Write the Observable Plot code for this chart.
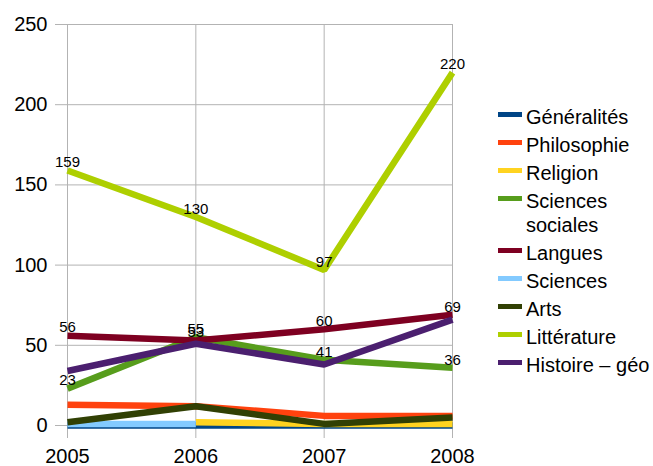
<!DOCTYPE html>
<html>
<head>
<meta charset="utf-8">
<script src="https://cdn.jsdelivr.net/npm/d3@7"></script>
<script src="https://cdn.jsdelivr.net/npm/@observablehq/plot@0.6"></script>
<style>
  html, body { margin: 0; padding: 0; background: #fff; }
  #chart { position: relative; width: 653px; height: 466px; font-family: "Liberation Sans", Arial, sans-serif; }
  #chart svg { position: absolute; left: 0; top: 0; }
  .legend { position: absolute; left: 498px; top: 105px; }
  .legend .item { display: flex; align-items: flex-start; margin-bottom: 4px; }
  .legend .swatch { width: 24px; height: 5px; margin-top: 6.5px; margin-right: 4px; flex: none; }
  .legend .label { font-size: 20px; line-height: 24px; width: 128px; color: #000; }
</style>
</head>
<body>
<div id="chart"></div>
<script>
// Number of documents per subject area, 2005–2008
const years = [2005, 2006, 2007, 2008];
const categories = ["Généralités", "Philosophie", "Religion", "Sciences sociales", "Langues", "Sciences", "Arts", "Littérature", "Histoire – géo"];
const colors = ["#004586", "#ff420e", "#ffd320", "#579d1c", "#7e0021", "#83caff", "#314004", "#aecf00", "#4b1f6f"];

const generalites      = [0, 0, 0, 0];
const philosophie      = [13, 12, 6, 6];
const religion         = [null, 2, 1, 1];
const sciencesSociales = [23, 55, 41, 36];
const langues          = [56, 53, 60, 69];
const sciences         = [1, 1, null, null];
const arts             = [2, 12, 1, 5];
const litterature      = [159, 130, 97, 220];
const histoireGeo      = [34, 51, 38, 66];

const yTicks = [0, 50, 100, 150, 200, 250];
// series whose points carry a value label
const labelled = ["Sciences sociales", "Langues", "Littérature"];

const seriesValues = [generalites, philosophie, religion, sciencesSociales, langues, sciences, arts, litterature, histoireGeo];

// long format: one row per (series, year)
const rows = categories.flatMap((name, i) =>
  years.map((year, j) => ({ name, year, value: seriesValues[i][j] }))
);
const labelRows = rows.filter(d => labelled.includes(d.name) && d.value != null);

const grid = "#b3b3b3";

const plot = Plot.plot({
  width: 653,
  height: 466,
  marginLeft: 67,
  marginRight: 201,
  marginTop: 24,
  marginBottom: 41,
  style: { fontFamily: "Liberation Sans, Arial, sans-serif", fontSize: "20px", color: "#000", background: "#fff" },
  x: { type: "linear", domain: [2005, 2008] },
  y: { domain: [0, 250] },
  color: { domain: categories, range: colors },
  marks: [
    Plot.gridY(yTicks, { stroke: grid, strokeOpacity: 1, strokeWidth: 1 }),
    Plot.gridX(years, { stroke: grid, strokeOpacity: 1, strokeWidth: 1 }),
    Plot.axisY(yTicks, { tickSize: 12, tickPadding: 8, stroke: grid, fontSize: 20, label: null }),
    Plot.axisX(years, { tickSize: 13, tickPadding: 10, stroke: grid, fontSize: 20, tickFormat: d => String(d), label: null }),
    Plot.line(rows, {
      x: "year", y: "value", z: "name", stroke: "name",
      strokeWidth: 6.5, strokeLinecap: "butt", strokeLinejoin: "miter"
    }),
    Plot.text(labelRows, {
      x: "year", y: "value", text: d => String(d.value),
      dy: -8, fontSize: 15, fill: "#000"
    })
  ]
});

const chart = document.getElementById("chart");
chart.appendChild(plot);

// line-swatch legend to the right of the plot
const legend = document.createElement("div");
legend.className = "legend";
categories.forEach((name, i) => {
  const item = document.createElement("div");
  item.className = "item";
  const sw = document.createElement("div");
  sw.className = "swatch";
  sw.style.background = colors[i];
  const lab = document.createElement("div");
  lab.className = "label";
  lab.textContent = name;
  item.appendChild(sw);
  item.appendChild(lab);
  legend.appendChild(item);
});
chart.appendChild(legend);
</script>
</body>
</html>
